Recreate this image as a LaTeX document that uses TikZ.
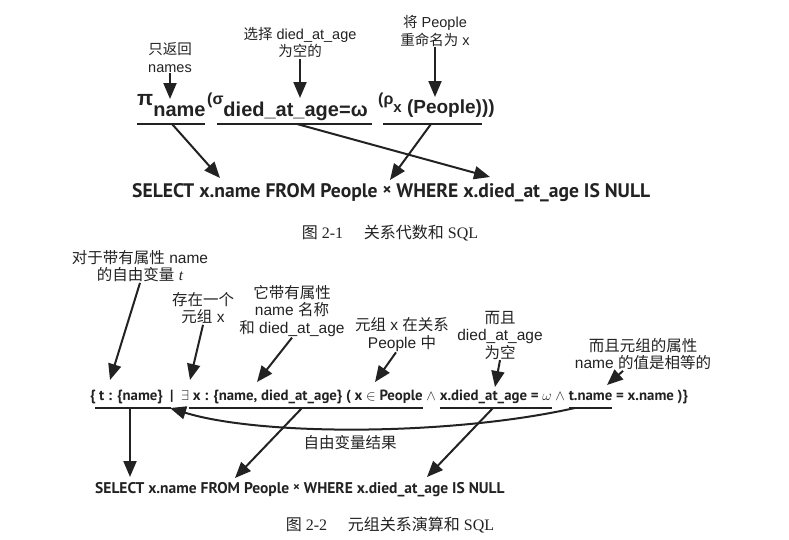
\documentclass[tikz,border=0pt]{standalone}
\usepackage{fontspec}
\setmainfont{Liberation Serif}
\newfontfamily\cjk{Noto Sans CJK SC}
\newfontfamily\lab{Liberation Sans}
\newfontfamily\sqlf{PT Sans}
\usepackage{tikz}
\usetikzlibrary{arrows.meta}
\usetikzlibrary{calc}
\newcommand{\zh}[1]{{\cjk #1}}
\definecolor{ink}{HTML}{222222}

\begin{document}
\begin{tikzpicture}[x=1pt,y=1pt,yscale=-1,xscale=1]
  \useasboundingbox (0,0) rectangle (789,539);
  \tikzstyle{arrow} = [ink,line width=2pt,-{Triangle[length=16pt,width=13pt]}]
  \tikzstyle{uline} = [ink,line width=1.8pt]
  \tikzstyle{note} = [ink,align=center,inner sep=0.75pt,font=\lab\fontsize{14.5}{17.5}\selectfont]
  \tikzstyle{noteb} = [note,font=\lab\fontsize{15.5}{17.5}\selectfont]
  \tikzstyle{ra} = [ink,anchor=base west,inner sep=0pt,font=\lab\bfseries\fontsize{20}{20}\selectfont]
  \tikzstyle{frm} = [ink,anchor=base west,inner sep=0pt,outer sep=0pt,font=\sqlf\bfseries\fontsize{14.8}{17}\selectfont]
  \tikzstyle{figcap} = [ink,inner sep=0.75pt,font=\fontsize{16}{18}\selectfont]

  %Figure 2-1: relational algebra
  \node[note] (only) at (170,57.5) {\zh{只返回}\\names};
  \node[note] (choose) at (300,42.5) {\zh{选择} died\_at\_age\\\zh{为空的}};
  \node[note] (rename) at (435,31) {\zh{将} People\\\zh{重命名为} x};

  \node[ra] (pi) at (137,116) {\raisebox{11pt}{\fontsize{21}{21}\selectfont π}name};
  \node[ra] (sigma) at (207,116) {\raisebox{12pt}{\fontsize{16}{16}\selectfont(σ}died\_at\_age=ω};
  \node[ra] (rho) at (378,116) {\raisebox{12pt}{\fontsize{16}{16}\selectfont(ρ}\raisebox{4pt}{\fontsize{15}{15}\selectfont x}\raisebox{3pt}{\fontsize{19}{19}\selectfont\ (People)))}};

  % underlines
  \draw[uline] (137,124) -- (205,124);
  \draw[uline] (217,124) -- (372,124);
  \draw[uline] (383,124) -- (482,124);

  \node[ink,anchor=base west,inner sep=0pt,font=\sqlf\bfseries\fontsize{19.6}{20}\selectfont] (sqla) at (132,197)
    {SELECT x.name FROM People \raisebox{2pt}{\fontsize{17}{17}\selectfont ×} WHERE x.died\_at\_age IS NULL};
  \node[figcap] (capa) at (390,233) {\zh{图} 2-1\hspace{1.3em}\zh{关系代数和} SQL};

  \coordinate (t1) at (170,99);
  \coordinate (t2) at (300,98);
  \coordinate (t3) at (435,97);
  \draw[arrow] (only.south) -- (t1);
  \draw[arrow] (choose.south) -- (t2);
  \draw[arrow] (rename.south) -- (t3);

  \coordinate (s1) at (172,124);
  \coordinate (s2) at (297,124);
  \coordinate (s3) at (431,124);
  \coordinate (q1) at (220,178);
  \coordinate (q2) at (490,177);
  \coordinate (q3) at (390,180);
  \draw[arrow] (s1) -- (q1);
  \draw[arrow] (s2) -- (q2);
  \draw[arrow] (s3) -- (q3);

  %Figure 2-2: tuple relational calculus
  \node[noteb] (free) at (140,266) {\zh{对于带有属性} name\\\zh{的自由变量} {\rmfamily\itshape t}};
  \node[noteb] (exists) at (203,308) {\zh{存在一个}\\\zh{元组} x};
  \node[noteb] (attrs) at (292,311) {\zh{它带有属性}\\name \zh{名称}\\\zh{和} died\_at\_age};
  \node[noteb] (inrel) at (402,334.5) {\zh{元组} x \zh{在关系}\\People \zh{中}};
  \node[noteb] (isnull) at (500,335) {\zh{而且}\\died\_at\_age\\\zh{为空}};
  \node[noteb] (equal) at (643,354) {\zh{而且元组的属性}\\name \zh{的值是相等的}};

  \node[frm] (f1) at (90,400) {\{ t : \{name\}};
  \node[frm] (f2) at (f1.base east) {\ \ |\ \ $\exists$\ \null};
  \node[frm] (f3) at (f2.base east) {x : \{name, died\_at\_age\} ( x $\in$ People};
  \node[frm] (f4) at (f3.base east) {\ $\wedge$\ \null};
  \node[frm] (f5) at (f4.base east) {x.died\_at\_age = $\omega$};
  \node[frm] (f6) at (f5.base east) {\ $\wedge$\ \null};
  \node[frm] (f7) at (f6.base east) {t.name};
  \node[frm] (f8) at (f7.base east) {\ = x.name )\}};

  % underlines
  \coordinate (uy) at (0,408);
  \draw[uline] ($(f1.west |- uy)+(5,0)$) -- ($(f1.east |- uy)+(8,0)$);
  \draw[uline] ($(f3.west |- uy)+(-4,0)$) -- (f3.east |- uy);
  \draw[uline] (f5.west |- uy) -- (f5.east |- uy);
  \draw[uline] (f7.west |- uy) -- (f7.east |- uy);

  \node[ink,anchor=base west,inner sep=0pt,font=\sqlf\bfseries\fontsize{15.5}{16}\selectfont] (sqlb) at (95,493)
    {SELECT x.name FROM People \raisebox{1.5pt}{\fontsize{13}{13}\selectfont ×} WHERE x.died\_at\_age IS NULL};
  \node[noteb] (result) at (350,443) {\zh{自由变量结果}};
  \node[figcap] (capb) at (390,525) {\zh{图} 2-2\hspace{1.3em}\zh{元组关系演算和} SQL};

  \coordinate (b1) at (110,380);
  \coordinate (b2) at (190,380);
  \coordinate (b3) at (257,382);
  \coordinate (b4) at (375,382);
  \coordinate (b5) at (495,387);
  \coordinate (b6) at (607,385);
  \draw[arrow] (free.south) -- (b1);
  \draw[arrow] (exists.south) -- (b2);
  \draw[arrow] (attrs.south) -- (b3);
  \draw[arrow] ([xshift=-6pt]inrel.south) -- (b4);
  \draw[arrow] (isnull.south) -- (b5);
  \draw[arrow] ([xshift=-20pt]equal.south) -- (b6);

  \coordinate (r1) at (130,408);
  \coordinate (r2) at (302,408);
  \coordinate (r3) at (493,408);
  \coordinate (w1) at (130,477);
  \coordinate (w2) at (235,478);
  \coordinate (w3) at (427,477);
  \draw[arrow] (r1) -- (w1);
  \draw[arrow] (r2) -- (w2);
  \draw[arrow] (r3) -- (w3);

  % free variable result
  \coordinate (c1) at ($(f7.west |- uy)+(6,0)$);
  \coordinate (c0) at (170,408);
  \draw[arrow] (c1) .. controls (450,436) and (260,436) .. (c0);
\end{tikzpicture}
\end{document}
